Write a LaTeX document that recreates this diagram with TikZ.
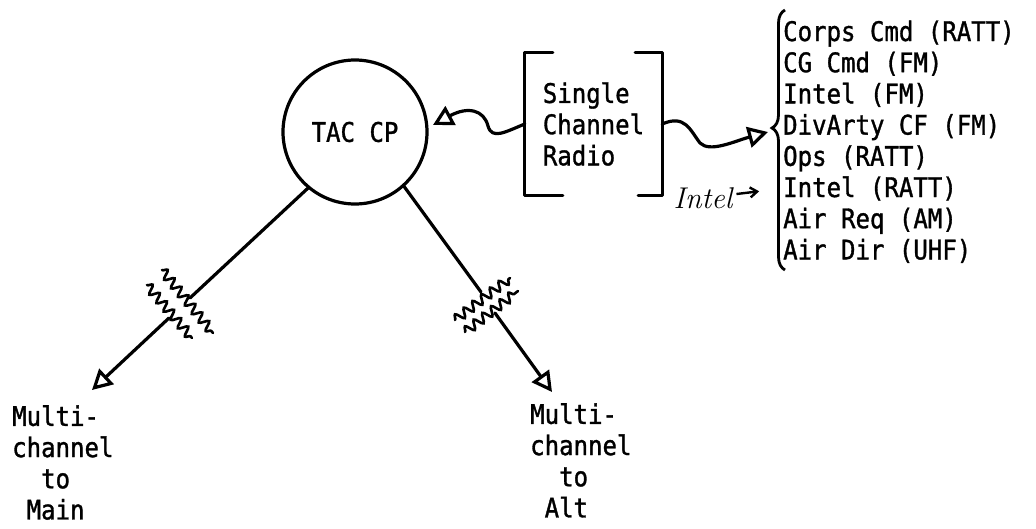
\documentclass[tikz,border=0pt]{standalone}
\usepackage{fontspec}
\setmonofont[FakeStretch=0.89, FakeBold=1.2]{DejaVu Sans Mono}
\usetikzlibrary{arrows.meta,decorations.pathmorphing,decorations.pathreplacing}
\begin{document}
\begin{tikzpicture}[x=1pt,y=-1pt,
  ink/.style={line width=3.2pt, line cap=round, line join=round},
  txt/.style={font=\ttfamily\fontsize{27}{31.2}\selectfont, inner sep=0pt},
  opentip/.style={-{Triangle[open, length=20pt, width=21pt]}},
  wave/.style={line width=2.6pt, line cap=round, decorate, decoration={snake, amplitude=4.5pt, segment length=11pt}},
  hand/.style={font=\itshape\fontsize{30}{32}\selectfont, inner sep=0pt}]
\useasboundingbox (0,0) rectangle (1036,528);

% central node
\node[circle, draw, ink, minimum size=144pt, inner sep=0pt, txt] (tac) at (355,132) {TAC CP};

% single channel radio (brackets)
\node[txt, align=left, minimum width=137pt, minimum height=142pt] (scr) at (593.5,124) {Single\\Channel\\Radio};
\draw[ink] ([xshift=28pt]scr.north west) -- (scr.north west) -- (scr.south west) -- ([xshift=38pt]scr.south west);
\draw[ink] ([xshift=-27pt]scr.north east) -- (scr.north east) -- (scr.south east) -- ([xshift=-24pt]scr.south east);

% list of nets
\node[txt, anchor=base west] (l1) at (783,41) {Corps Cmd (RATT)};
\node[txt, anchor=base west] (l2) at (783,72.2) {CG Cmd (FM)};
\node[txt, anchor=base west] (l3) at (783,103.4) {Intel (FM)};
\node[txt, anchor=base west] (l4) at (783,134.6) {DivArty CF (FM)};
\node[txt, anchor=base west] (l5) at (783,165.8) {Ops (RATT)};
\node[txt, anchor=base west] (l6) at (783,197) {Intel (RATT)};
\node[txt, anchor=base west] (l7) at (783,228.2) {Air Req (AM)};
\node[txt, anchor=base west] (l8) at (783,259.4) {Air Dir (UHF)};
\coordinate (bb) at (785,270);
\coordinate (bt) at (785,10);
\draw[line width=2.8pt, decorate, decoration={brace, amplitude=13pt, aspect=0.546}] (bb) -- (bt);

% squiggly radio links
\coordinate (tipL) at (433,125);
\coordinate (tipR) at (768,132);
\draw[ink, opentip] (scr.west) .. controls (505,132) and (492,140) .. (488,126) .. controls (484,110) and (468,106) .. (tipL);
\draw[ink, opentip] (scr.east) .. controls (685,114) and (690,130) .. (700,143) .. controls (710,153) and (735,141) .. (tipR);

% handwritten Intel annotation
\node[hand] (intel) at (703,198) {Intel};
\draw[line width=2.4pt, -{Straight Barb[length=7pt, width=10pt]}, shorten <=4pt, shorten >=24pt] (intel) -- (l6.west);

% multichannel links
\coordinate (gL1) at (190,298);
\coordinate (gL2) at (169,318);
\coordinate (tipM) at (92,390);
\draw[ink] (tac.230) -- (gL1);
\draw[ink, opentip] (gL2) -- (tipM);
\draw[wave] (147,285) -- (192,338);
\draw[wave] (162,270) -- (213,333);

\coordinate (gR1) at (481,292);
\coordinate (gR2) at (495,313);
\coordinate (tipA) at (552,392);
\draw[ink] (tac.312) -- (gR1);
\draw[ink, opentip] (gR2) -- (tipA);
\draw[wave] (455,320) -- (510,278);
\draw[wave] (465,332) -- (518,291);

\node[txt, align=left, anchor=north west] (main) at (12,405) {Multi-\\channel\\\phantom{ch}to\\\phantom{c}Main};
\node[txt, align=left, anchor=north west] (alt) at (530,403) {Multi-\\channel\\\phantom{ch}to\\\phantom{c}Alt};
\end{tikzpicture}
\end{document}
